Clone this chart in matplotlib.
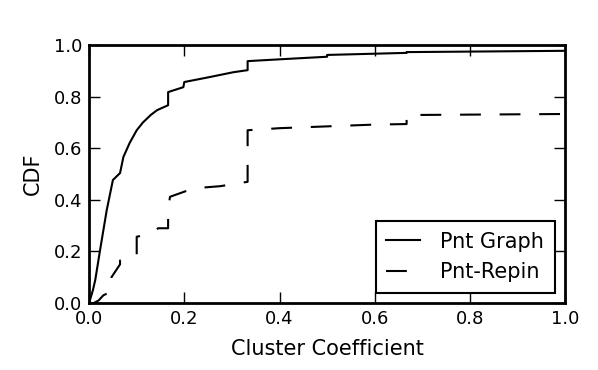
import numpy as np
import matplotlib
matplotlib.use('Agg')
import matplotlib.pyplot as plt

# CDF curves
graph_x = [0, 0.008, 0.013, 0.023, 0.037, 0.05, 0.065, 0.072, 0.085, 0.1, 0.113, 0.13, 0.143,
           0.166, 0.166, 0.198, 0.2, 0.25, 0.303, 0.333, 0.333, 0.4, 0.5, 0.5, 0.667, 0.667, 1.0]
graph_y = [0, 0.05, 0.09, 0.205, 0.36, 0.477, 0.504, 0.566, 0.62, 0.67, 0.70, 0.73, 0.748,
           0.767, 0.818, 0.837, 0.857, 0.875, 0.895, 0.903, 0.938, 0.945, 0.955, 0.962, 0.97, 0.973, 0.978]

repin_x = [0, 0.01, 0.02, 0.03, 0.047, 0.047, 0.065, 0.065, 0.086, 0.1, 0.1, 0.132, 0.145,
           0.166, 0.166, 0.17, 0.22, 0.275, 0.333, 0.333, 0.4, 0.5, 0.6, 0.667, 0.667, 1.0]
repin_y = [0, 0.0, 0.01, 0.03, 0.045, 0.1, 0.15, 0.165, 0.174, 0.18, 0.257, 0.27, 0.29,
           0.29, 0.367, 0.412, 0.445, 0.453, 0.47, 0.67, 0.678, 0.685, 0.692, 0.694, 0.729, 0.733]

labels = ['Pnt Graph', 'Pnt-Repin']

fig = plt.figure(figsize=(5.98, 3.70), dpi=100)
ax = fig.add_axes([0.149, 0.181, 0.796, 0.697])

ax.plot(graph_x, graph_y, color='black', lw=1.5, label=labels[0])
ax.plot(repin_x, repin_y, color='black', lw=1.5, dashes=(10, 9), label=labels[1])

ax.set_xlim(0, 1)
ax.set_ylim(0, 1)
ax.set_xticks(np.arange(0, 1.01, 0.2))
ax.set_yticks(np.arange(0, 1.01, 0.2))
ax.tick_params(direction='in', top=True, right=True, length=8, width=1, labelsize=13, pad=5)
for s in ax.spines.values():
    s.set_linewidth(2)

ax.set_xlabel('Cluster Coefficient', fontsize=15, labelpad=8)
ax.set_ylabel('CDF', fontsize=15, labelpad=8)

leg = ax.legend(loc='lower right', fontsize=15, fancybox=False, framealpha=1,
                edgecolor='black', borderaxespad=0.5, borderpad=0.5, handlelength=1.6,
                handletextpad=1.0, labelspacing=0.5)
leg.get_frame().set_linewidth(1.5)

fig.savefig('out.png', dpi=100)
